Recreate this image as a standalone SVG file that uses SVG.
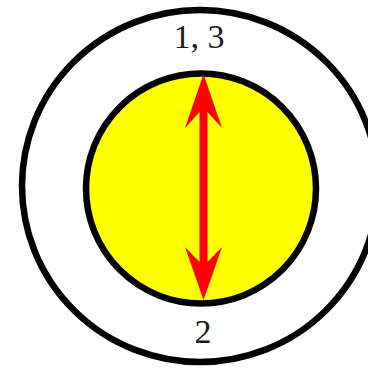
<svg xmlns="http://www.w3.org/2000/svg" width="368" height="371" viewBox="0 0 368 371">
<style>
.ring{fill:none;stroke:#000;stroke-width:6.5}
.core{fill:#ffff00;stroke:#000;stroke-width:6.5}
.lbl{font-family:"Liberation Serif","Times New Roman",serif;font-size:34px;fill:#1a1a1a;text-anchor:middle}
.arrow{fill:#ff0000;stroke:none}
</style>
<rect width="368" height="371" fill="#fff"/>
<g id="outer">
<ellipse class="ring" cx="200" cy="186" rx="178" ry="176"/>
</g>
<g id="inner">
<circle class="core" cx="201" cy="188.5" r="115"/>
</g>
<g id="connectors">
<path class="arrow" d="M203.5,74 L222,128 L207.5,112 L207.5,262 L222,247 L203.5,300 L185,247 L199.5,262 L199.5,112 L185,128 Z"/>
</g>
<g id="labels">
<text class="lbl" x="199" y="48">1, 3</text>
<text class="lbl" x="203" y="343">2</text>
</g>
</svg>
